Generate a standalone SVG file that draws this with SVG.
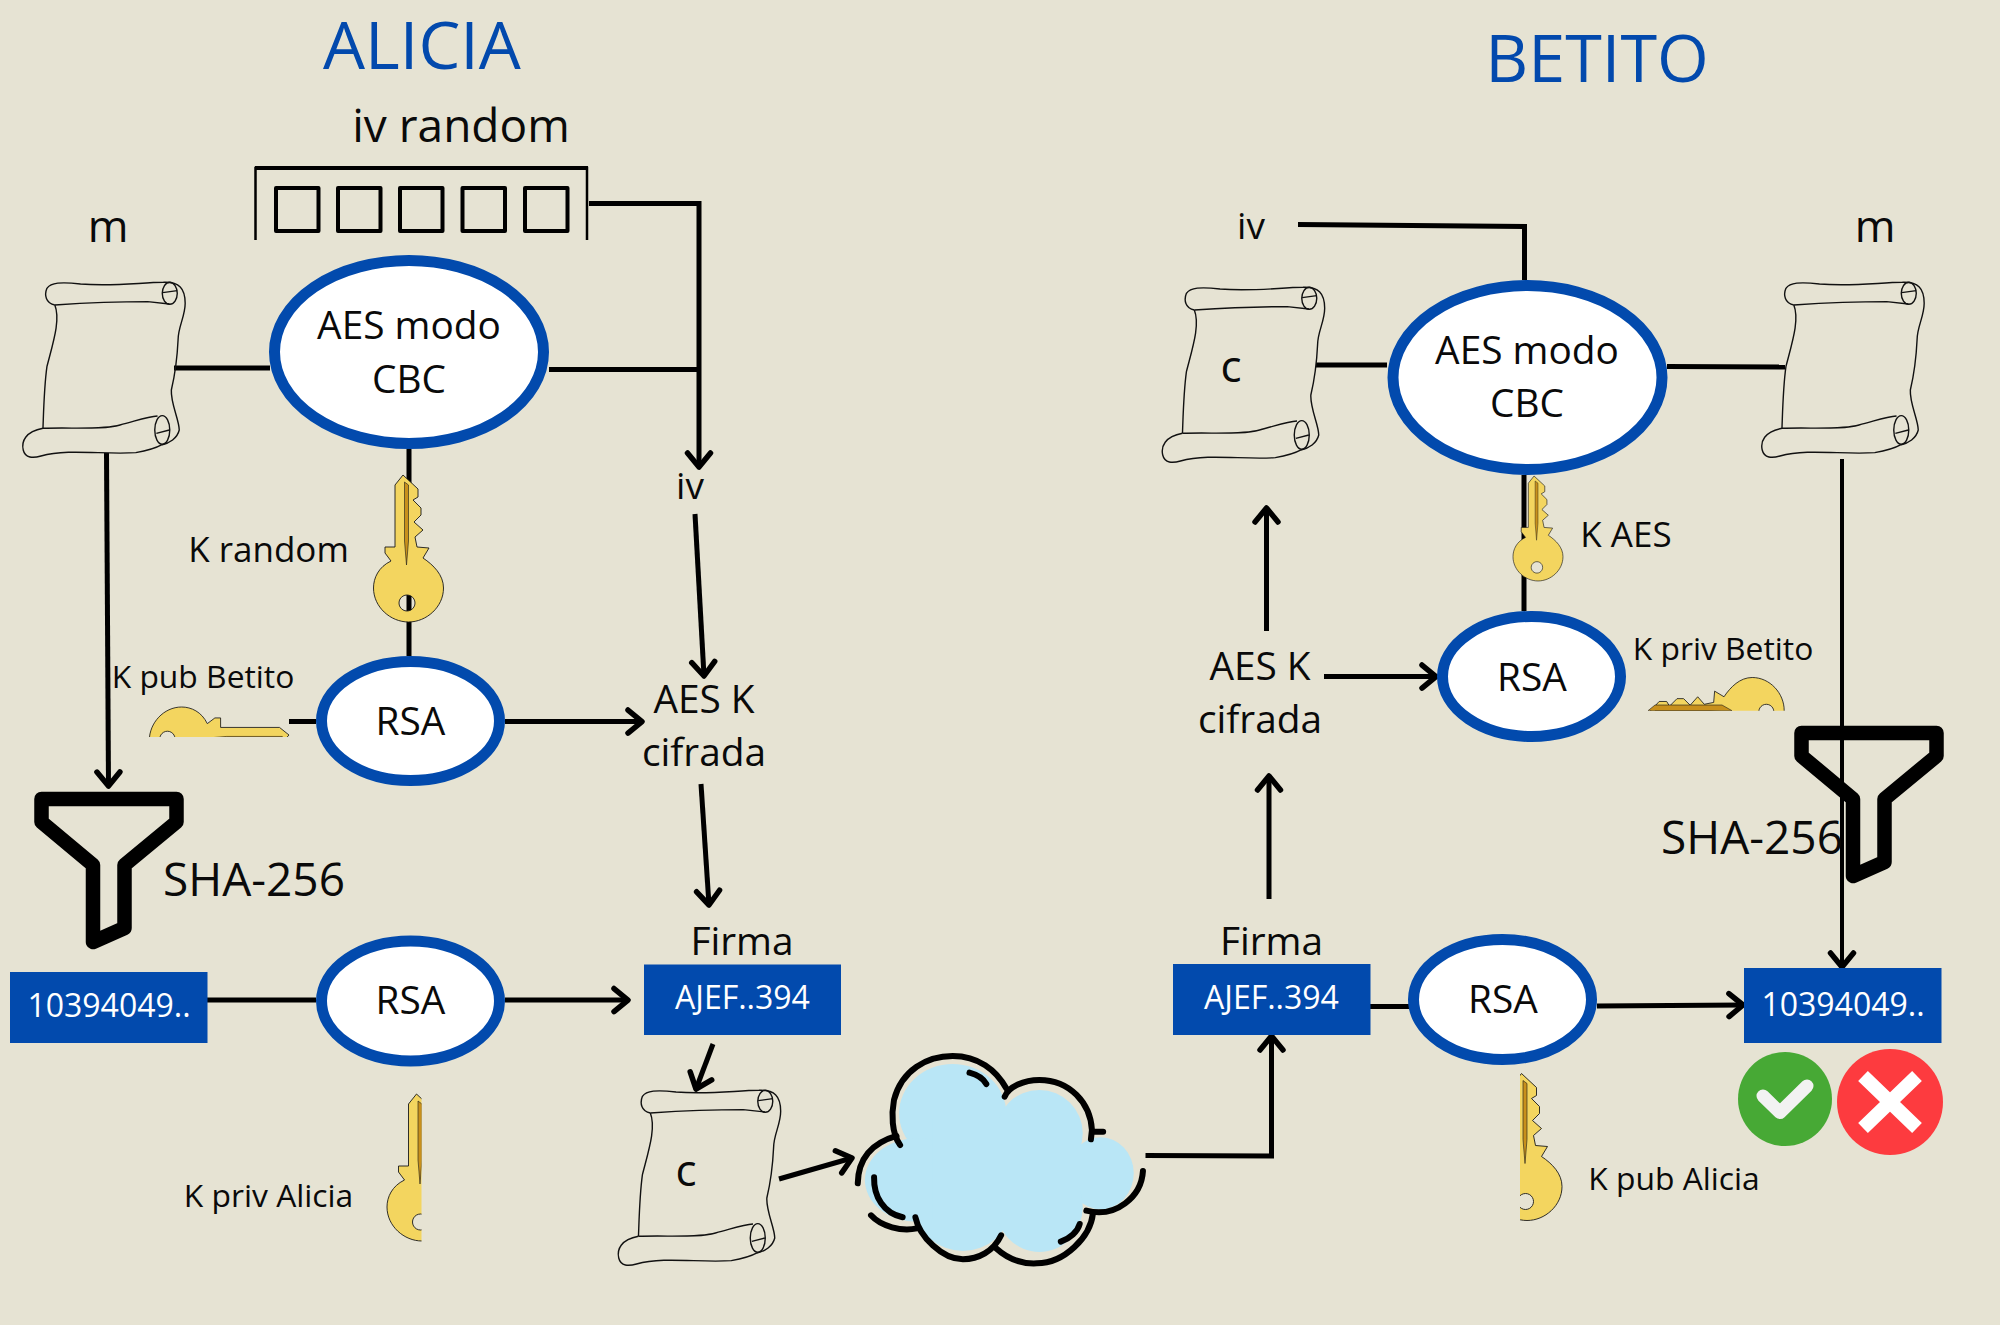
<svg xmlns="http://www.w3.org/2000/svg" width="2000" height="1325" viewBox="0 0 2000 1325">
<style>
text{font-family:"Open Sans","Noto Sans","DejaVu Sans",sans-serif;fill:#0a0a0a;text-anchor:middle}
.ttl{font-size:66.5px;fill:#0249ad}
.t38{font-size:38.8px}.t31{font-size:31.8px}.t34{font-size:35px}.t45{font-size:46px}
.w{fill:#fff;font-size:32px}
.el{fill:#fff;stroke:#024aad;stroke-width:11}
.box{fill:#024aad}
.ln{fill:none;stroke:#000;stroke-width:5}
.ar{marker-end:url(#ah)}
.sc{fill:none;stroke:#111;stroke-width:1.4;vector-effect:non-scaling-stroke}
.cl{fill:none;stroke:#000;stroke-width:6;stroke-linecap:round;vector-effect:non-scaling-stroke}
.fn{fill:none;stroke:#000;stroke-width:14.5;stroke-linejoin:round}
</style>
<defs>
<marker id="ah" markerUnits="userSpaceOnUse" markerWidth="30" markerHeight="30" viewBox="-20 -15 24 30" refX="0" refY="0" orient="auto" overflow="visible">
<path d="M-14,-11.5L0,0L-14,11.5" fill="none" stroke="#000" stroke-width="5.5" stroke-linecap="round" stroke-linejoin="round"/>
</marker>
<g id="scroll">
<path class="sc" d="M135,495C112,490 108,465 115,445C125,428 150,425 200,432C280,440 350,428 410,427C450,425 465,445 465,490C465,530 447,560 447,600C445,650 440,700 430,750C428,790 450,840 450,870C445,895 425,910 405,915"/>
<path class="sc" d="M135,495C200,490 280,485 370,485L425,492"/>
<ellipse class="sc" cx="426" cy="460" rx="19" ry="33"/>
<path class="sc" d="M408,458L445,452"/>
<path class="sc" d="M135,495C150,540 130,610 115,680C108,740 107,800 105,865"/>
<path class="sc" d="M105,865C60,875 50,905 55,930C60,955 80,955 100,948C170,925 260,945 340,938C370,932 390,925 405,915"/>
<path class="sc" d="M105,865C180,862 260,870 300,855C340,843 370,830 395,828"/>
<ellipse class="sc" cx="407" cy="870" rx="19" ry="43"/>
<path class="sc" d="M392,880L425,870"/>
</g>
<g id="key">
<path fill="#f3d55f" fill-rule="evenodd" stroke="#1a1a1a" stroke-width=".9" d="M29.5,0L21.5,10V72H11.5V78L17.5,86C5,92 0,103 0,113C0,132 17,147 35,147C53,147 70,132 70,113C70,100 60,90 49.5,83L55.5,73L43.5,72L41.5,62L49.5,55L40.5,47L47.5,40V33L39.5,25L44.5,22V14ZM33.5,120a8,8 0 1,0 .01,0Z"/>
<path fill="#c8901c" stroke="#1a1a1a" stroke-width=".6" d="M31,7L35,10V66L33,90L31,66Z"/>
</g>
<clipPath id="cpA"><rect x="380" y="1085" width="41.5" height="165"/></clipPath>
<clipPath id="cpB"><rect x="1520" y="1065" width="50" height="165"/></clipPath>
<clipPath id="cpC"><rect x="140" y="700" width="155" height="37"/></clipPath>
<clipPath id="cpD"><rect x="1640" y="670" width="150" height="40.7"/></clipPath>
</defs>
<rect id="background" width="2000" height="1325" fill="#e6e3d3"/>

<g id="title-alicia"><text class="ttl" x="422" y="69">ALICIA</text></g>
<g id="title-betito"><text class="ttl" x="1597" y="82">BETITO</text></g>

<g id="funnel-alicia"><path class="fn" d="M41.5,799H176.5V822L124.5,865V928L93,942V865L41.5,822Z"/></g>
<g id="funnel-betito"><path class="fn" transform="translate(1760,-66)" d="M41.5,799H176.5V822L124.5,865V928L93,942V865L41.5,822Z"/></g>

<g id="connectors">
<path class="ln ar" d="M589,203.5H699V467"/>
<path class="ln" d="M549,369.5H697"/>
<path class="ln" d="M174,368H270"/>
<path class="ln" d="M409,449V622M409,622V656"/>
<path class="ln ar" d="M106.5,453L108.5,786"/>
<path class="ln" d="M289,721.5H316"/>
<path class="ln ar" d="M505,721.5H642"/>
<path class="ln ar" d="M695,514L704,676"/>
<path class="ln ar" d="M701,784L709,905"/>
<path class="ln" d="M207,1000H316"/>
<path class="ln ar" d="M505,1000H628"/>
<path class="ln ar" d="M713,1044L696,1089"/>
<path class="ln ar" d="M779,1179L852,1158"/>
<path class="ln ar" d="M1145.5,1155.5L1271.5,1156V1036"/>
<path class="ln" d="M1298,224.5L1524.5,226.5V280"/>
<path class="ln" d="M1316,365H1387"/>
<path class="ln" d="M1667,366.5L1785,367"/>
<path class="ln" d="M1524,475V611"/>
<path class="ln ar" d="M1266.5,631V508"/>
<path class="ln ar" d="M1269,899V776"/>
<path class="ln ar" d="M1324,676.5H1436"/>
<path class="ln" d="M1370,1006.5H1409"/>
<path class="ln ar" d="M1597,1006L1743,1005"/>
<path class="ln ar" style="stroke-width:4" d="M1842,459V967"/>
</g>

<g id="iv-random">
<text x="461" y="142" style="font-size:46px">iv random</text>
<path d="M255.5,240V168H587V240" fill="none" stroke="#000" stroke-width="2.5"/>
<path d="M255,168H588" stroke="#000" stroke-width="4"/>
<g fill="none" stroke="#000" stroke-width="4" stroke-linejoin="round">
<rect x="276" y="188" width="42.5" height="43"/>
<rect x="338" y="188" width="42.5" height="43"/>
<rect x="400" y="188" width="42.5" height="43"/>
<rect x="462.5" y="188" width="42.5" height="43"/>
<rect x="525" y="188" width="42.5" height="43"/>
</g>
</g>

<g id="m-alicia"><text x="108" y="242" style="font-size:44px">m</text><use href="#scroll" transform="translate(1.5,140) scale(.395,.3333)"/></g>
<g id="aes-alicia"><ellipse class="el" cx="409" cy="352" rx="134.5" ry="91.5"/><text class="t38" x="409" y="339">AES modo</text><text class="t38" x="409" y="393">CBC</text></g>
<g id="key-random"><text class="t34" x="268.5" y="562">K random</text><use href="#key" x="373.5" y="475"/></g>
<g id="rsa-alicia-1"><ellipse class="el" cx="410.5" cy="721" rx="89" ry="59.5"/><text class="t38" x="410.5" y="735">RSA</text></g>
<g id="key-pub-betito"><text class="t31" x="203" y="688">K pub Betito</text><g clip-path="url(#cpC)"><use href="#key" transform="translate(289,707) rotate(90) scale(.95)"/></g></g>
<g id="iv-alicia"><text x="690" y="499" style="font-size:37px">iv</text></g>
<g id="aes-k-alicia"><text class="t38" x="704" y="713">AES K</text><text class="t38" x="704" y="766">cifrada</text></g>
<g id="sha-alicia"><text class="t45" x="254" y="896">SHA-256</text></g>
<g id="hash-alicia"><rect class="box" x="10" y="972" width="197.5" height="71"/><text class="w" x="109" y="1017">10394049..</text></g>
<g id="rsa-alicia-2"><ellipse class="el" cx="410.5" cy="1001" rx="89" ry="60"/><text class="t38" x="410.5" y="1014">RSA</text></g>
<g id="firma-alicia"><text class="t38" x="742" y="955">Firma</text><rect class="box" x="644" y="964.5" width="197" height="70.5"/><text class="w" x="742.5" y="1009">AJEF..394</text></g>
<g id="key-priv-alicia"><text class="t31" x="268.5" y="1207">K priv Alicia</text><g clip-path="url(#cpA)"><use href="#key" x="387" y="1094"/></g></g>
<g id="c-alicia"><use href="#scroll" transform="translate(597,948) scale(.395,.3333)"/><text x="686" y="1186" style="font-size:44px">c</text></g>

<g id="cloud">
<g transform="translate(820,980) scale(.5102,.3333)">
<g fill="#b9e6f6">
<ellipse cx="260" cy="400" rx="105" ry="148"/>
<ellipse cx="430" cy="460" rx="85" ry="130"/>
<ellipse cx="550" cy="580" rx="65" ry="108"/>
<ellipse cx="190" cy="600" rx="102" ry="125"/>
<ellipse cx="280" cy="690" rx="90" ry="123"/>
<ellipse cx="430" cy="680" rx="85" ry="136"/>
<rect x="220" y="420" width="280" height="300"/>
</g>
<path class="cl" d="M157,495C140,460 140,400 145,360C160,270 210,228 260,228C310,228 345,270 365,325"/>
<path class="cl" d="M362,350C370,320 400,300 430,300C490,300 530,370 533,450L531,478M533,455H555"/>
<path class="cl" d="M150,468C100,490 75,540 74,610"/>
<path class="cl" d="M293,278C310,285 320,295 326,312"/>
<path class="cl" d="M106,592C105,650 125,700 162,712"/>
<path class="cl" d="M100,706C120,740 160,755 190,745"/>
<path class="cl" d="M187,712C195,770 240,838 280,838C310,838 340,815 355,766"/>
<path class="cl" d="M345,805C370,840 400,852 425,850C480,850 530,770 535,700"/>
<path class="cl" d="M522,692C580,715 630,650 633,573"/>
<path class="cl" d="M472,785C490,775 505,755 509,732"/>
</g>
</g>

<g id="iv-betito"><text x="1251" y="239" style="font-size:37px">iv</text></g>
<g id="m-betito"><text x="1875" y="242" style="font-size:44px">m</text><use href="#scroll" transform="translate(1740.5,140) scale(.395,.3333)"/></g>
<g id="c-betito"><use href="#scroll" transform="translate(1141,145) scale(.395,.3333)"/><text x="1231" y="382" style="font-size:44px">c</text></g>
<g id="aes-betito"><ellipse class="el" cx="1527.5" cy="377.5" rx="134.5" ry="92"/><text class="t38" x="1527" y="364">AES modo</text><text class="t38" x="1527" y="417">CBC</text></g>
<g id="key-aes"><use href="#key" transform="translate(1513,476) scale(.714)"/><text class="t34" x="1626" y="547">K AES</text></g>
<g id="rsa-betito-1"><ellipse class="el" cx="1531.5" cy="676.5" rx="89" ry="60"/><text class="t38" x="1532" y="691">RSA</text></g>
<g id="key-priv-betito"><text class="t31" x="1723" y="660">K priv Betito</text><g clip-path="url(#cpD)"><use href="#key" transform="translate(1646,743.3) rotate(-90) scale(.94)"/><path d="M1648,710.7L1655,705H1722L1732,710.7Z" fill="#c8901c" stroke="#1a1a1a" stroke-width=".6"/></g></g>
<g id="aes-k-betito"><text class="t38" x="1260" y="680">AES K</text><text class="t38" x="1260" y="733">cifrada</text></g>
<g id="sha-betito"><text class="t45" x="1752" y="854">SHA-256</text></g>
<g id="firma-betito"><text class="t38" x="1271.5" y="955">Firma</text><rect class="box" x="1173" y="964" width="197.5" height="71"/><text class="w" x="1271.5" y="1009">AJEF..394</text></g>
<g id="rsa-betito-2"><ellipse class="el" cx="1502.5" cy="999.5" rx="89" ry="60"/><text class="t38" x="1503" y="1013">RSA</text></g>
<g id="key-pub-alicia"><g clip-path="url(#cpB)"><use href="#key" x="1492" y="1073.5"/></g><text class="t31" x="1674" y="1190">K pub Alicia</text></g>
<g id="hash-betito"><rect class="box" x="1744" y="968" width="197.5" height="75"/><text class="w" x="1843" y="1016">10394049..</text></g>
<g id="check"><circle cx="1785" cy="1099" r="47" fill="#47a935"/><path d="M1763,1096L1780,1112.5L1807,1086" fill="none" stroke="#f2f2f2" stroke-width="13" stroke-linecap="round" stroke-linejoin="round"/></g>
<g id="cross"><circle cx="1890" cy="1102" r="53" fill="#fd3b3f"/><path d="M1863,1076L1917,1128M1917,1076L1863,1128" fill="none" stroke="#fff" stroke-width="14"/></g>
</svg>
